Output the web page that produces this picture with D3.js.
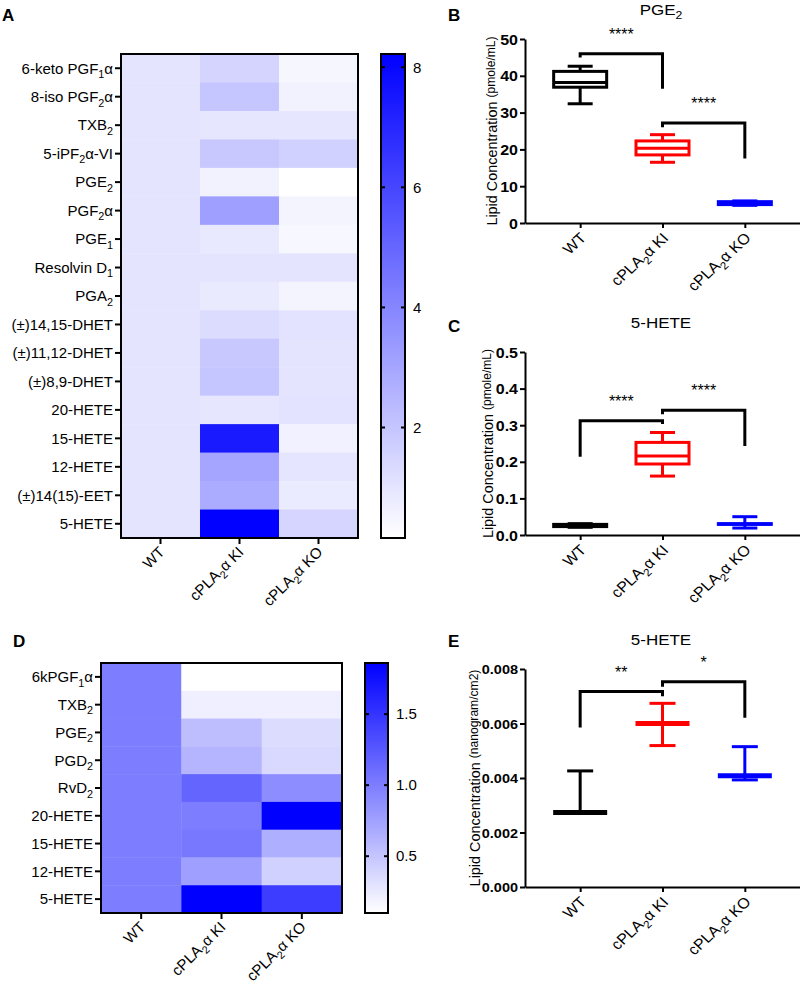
<!DOCTYPE html>
<html><head><meta charset="utf-8">
<script src="https://cdn.jsdelivr.net/npm/d3@7"></script>
<style>
body{margin:0;background:#fff}
svg{display:block}
text{font-family:"Liberation Sans",Arial,Helvetica,sans-serif;fill:#000}
</style>
</head><body>
<svg id="fig" width="800" height="991"></svg>
<script>
// ---------------- DATA ----------------
const genotypes = ["WT", "cPLA_2α KI", "cPLA_2α KO"];
const groupColors = ["#000000", "#ff0000", "#0000ff"];

// Panel A heatmap (fold change, plasma)
const lipidsA = ["6-keto PGF_1α", "8-iso PGF_2α", "TXB_2", "5-iPF_2α-VI", "PGE_2", "PGF_2α", "PGE_1",
  "Resolvin D_1", "PGA_2", "(±)14,15-DHET", "(±)11,12-DHET", "(±)8,9-DHET", "20-HETE", "15-HETE",
  "12-HETE", "(±)14(15)-EET", "5-HETE"];
const wtA = [1, 1, 1, 1, 1, 1, 1, 1, 1, 1, 1, 1, 1, 1, 1, 1, 1];
const kiA = [1.53, 2.0, 0.95, 1.9, 0.57, 3.2, 0.88, 1.0, 0.82, 1.26, 1.9, 2.0, 0.95, 7.4, 3.0, 2.8, 8.2];
const koA = [0.45, 0.57, 0.95, 1.6, 0.16, 0.5, 0.4, 1.02, 0.5, 1.05, 1.0, 1.0, 1.05, 0.6, 0.97, 0.78, 1.5];
const colorDomainA = [0.16, 8.22];
const colorTicksA = [2, 4, 6, 8];

// Panel D heatmap (fold change, skin)
const lipidsD = ["6kPGF_1α", "TXB_2", "PGE_2", "PGD_2", "RvD_2", "20-HETE", "15-HETE", "12-HETE", "5-HETE"];
const wtD = [1, 1, 1, 1, 1, 1, 1, 1, 1];
const kiD = [0.1, 0.21, 0.55, 0.62, 1.17, 1.0, 1.03, 0.76, 1.86];
const koD = [0.1, 0.21, 0.34, 0.36, 0.89, 1.86, 0.65, 0.42, 1.44];
const colorDomainD = [0.1, 1.86];
const colorTicksD = [0.5, 1.0, 1.5];

// Panel B box plot: PGE2 (pmole/mL)
const pge2Box = [
  {min: 32.4, q1: 36.9, med: 38.2, q3: 41.2, max: 42.6},
  {min: 16.5, q1: 18.5, med: 20.3, q3: 22.3, max: 24.0},
  {min: 4.8, q1: 5.0, med: 5.3, q3: 5.8, max: 6.0}
];
const pge2Ticks = [0, 10, 20, 30, 40, 50];
const pge2Sig = [
  {a: 0, b: 1, top: 46, yl: 45, yr: 36.5, label: "****"},
  {a: 1, b: 2, top: 27.2, yl: 26, yr: 17.5, label: "****"}
];

// Panel C box plot: 5-HETE (pmole/mL)
const hete5Box = [
  {min: 0.021, q1: 0.023, med: 0.026, q3: 0.029, max: 0.031},
  {min: 0.161, q1: 0.194, med: 0.216, q3: 0.253, max: 0.280},
  {min: 0.019, q1: 0.029, med: 0.030, q3: 0.031, max: 0.050}
];
const hete5Ticks = [0, 0.1, 0.2, 0.3, 0.4, 0.5];
const hete5Sig = [
  {a: 0, b: 1, top: 0.312, yl: 0.214, yr: 0.303, label: "****"},
  {a: 1, b: 2, top: 0.341, yl: 0.33, yr: 0.243, label: "****"}
];

// Panel E mean ± SD: 5-HETE (nanogram/cm2)
const hete5Skin = [
  {mean: 0.00273, lo: 0.00270, hi: 0.00426},
  {mean: 0.00600, lo: 0.00519, hi: 0.00674},
  {mean: 0.00408, lo: 0.00393, hi: 0.00515}
];
const hete5SkinTicks = [0, 0.002, 0.004, 0.006, 0.008];
const hete5SkinSig = [
  {a: 0, b: 1, top: 0.00717, yl: 0.00585, yr: 0.0070, label: "**"},
  {a: 1, b: 2, top: 0.00753, yl: 0.00735, yr: 0.00621, label: "*"}
];

// ---------------- HELPERS ----------------
const svg = d3.select("#fig");
svg.append("rect").attr("width", 800).attr("height", 991).attr("fill", "#fff");

// rich text: "_x" => subscript x
function rich(t, str, fs) {
  const parts = [];
  let buf = "";
  for (let i = 0; i < str.length; i++) {
    if (str[i] === "_") {
      if (buf) parts.push({s: buf, sub: false});
      buf = "";
      parts.push({s: str[i + 1], sub: true});
      i++;
    } else buf += str[i];
  }
  if (buf) parts.push({s: buf, sub: false});
  const sh = fs * 0.3;
  let shifted = false;
  parts.forEach(p => {
    const ts = t.append("tspan").text(p.s);
    if (p.sub) {
      ts.attr("font-size", fs * 0.72);
      if (!shifted) ts.attr("dy", sh);
      shifted = true;
    } else if (shifted) {
      ts.attr("dy", -sh);
      shifted = false;
    }
  });
  return t;
}

function stext(parent, x, y, rot, sy, fs) {
  return parent.append("text")
    .attr("transform", `translate(${x},${y}) scale(1,${sy}) rotate(${rot})`)
    .attr("font-size", fs);
}

function panelLetter(ch, x, y) {
  svg.append("text").attr("x", x).attr("y", y).attr("font-size", 17)
    .attr("font-weight", "bold").text(ch);
}

// ---------------- HEATMAP ----------------
let gradId = 0;
function heatmap(c) {
  const g = svg.append("g");
  const x = d3.scaleBand().domain(d3.range(genotypes.length)).range([c.x0, c.x1]);
  const y = d3.scaleBand().domain(d3.range(c.rows.length)).range([c.y0, c.y1]);
  const col = d3.scaleLinear().domain(c.domain).range(["#ffffff", "#0000ff"]).clamp(true);
  const cells = [];
  c.series.forEach((s, ci) => s.forEach((v, ri) => cells.push({ci, ri, v})));
  g.selectAll("rect.cell").data(cells).join("rect").attr("class", "cell")
    .attr("x", d => x(d.ci)).attr("y", d => y(d.ri))
    .attr("width", x.bandwidth() + 0.4).attr("height", y.bandwidth() + 0.4)
    .attr("fill", d => col(d.v));
  g.append("rect").attr("x", c.x0).attr("y", c.y0).attr("width", c.x1 - c.x0)
    .attr("height", c.y1 - c.y0).attr("fill", "none").attr("stroke", "#000").attr("stroke-width", 2);
  // row ticks and labels
  c.rows.forEach((r, i) => {
    const yc = y(i) + y.bandwidth() / 2;
    g.append("line").attr("x1", c.x0 - 6).attr("x2", c.x0).attr("y1", yc).attr("y2", yc)
      .attr("stroke", "#000").attr("stroke-width", 2);
    const t = g.append("text").attr("x", c.x0 - 8).attr("y", yc + 5.3)
      .attr("text-anchor", "end").attr("font-size", 15);
    rich(t, r, 15);
  });
  // column ticks and labels
  genotypes.forEach((gname, i) => {
    const xc = x(i) + x.bandwidth() / 2;
    g.append("line").attr("x1", xc).attr("x2", xc).attr("y1", c.y1).attr("y2", c.y1 + 6)
      .attr("stroke", "#000").attr("stroke-width", 2);
    const t = stext(g, xc + 5, c.y1 + 15, -45, 1, 15).attr("text-anchor", "end");
    rich(t, gname, 15);
  });
  // colour bar
  const id = "grad" + (gradId++);
  const lg = svg.append("defs").append("linearGradient").attr("id", id)
    .attr("x1", 0).attr("y1", 1).attr("x2", 0).attr("y2", 0);
  d3.range(0, 1.0001, 0.1).forEach(f => {
    lg.append("stop").attr("offset", f)
      .attr("stop-color", col(c.domain[0] + f * (c.domain[1] - c.domain[0])));
  });
  const yb = d3.scaleLinear().domain(c.domain).range([c.y1, c.y0]);
  g.append("rect").attr("x", c.bx0).attr("y", c.y0).attr("width", c.bx1 - c.bx0)
    .attr("height", c.y1 - c.y0).attr("fill", `url(#${id})`)
    .attr("stroke", "#000").attr("stroke-width", 2);
  c.ticks.forEach(tv => {
    const yy = yb(tv);
    g.append("line").attr("x1", c.bx0).attr("x2", c.bx0 + 4).attr("y1", yy).attr("y2", yy)
      .attr("stroke", "#000").attr("stroke-width", 2);
    g.append("line").attr("x1", c.bx1 - 4).attr("x2", c.bx1).attr("y1", yy).attr("y2", yy)
      .attr("stroke", "#000").attr("stroke-width", 2);
    g.append("text").attr("x", c.bx1 + 8).attr("y", yy + 5.3).attr("font-size", 15)
      .text(c.fmt(tv));
  });
}

heatmap({x0: 121, x1: 358, y0: 54, y1: 538, bx0: 381, bx1: 405,
  rows: lipidsA, series: [wtA, kiA, koA], domain: colorDomainA, ticks: colorTicksA,
  fmt: d3.format("d")});
heatmap({x0: 101, x1: 342, y0: 663, y1: 913, bx0: 365, bx1: 388,
  rows: lipidsD, series: [wtD, kiD, koD], domain: colorDomainD, ticks: colorTicksD,
  fmt: d3.format(".1f")});

// ---------------- BOX / MEAN PANELS ----------------
const SY = 0.88;
function statPanel(c) {
  const g = svg.append("g");
  const x = d3.scalePoint().domain(d3.range(genotypes.length)).range([525, 800]).padding(0.67);
  const y = d3.scaleLinear().domain(c.domain).range([c.yb, c.yt]);
  // y axis
  const ya = g.append("g").attr("transform", "translate(525,0)")
    .call(d3.axisLeft(y).tickValues(c.ticks).tickFormat(c.fmt).tickSize(5).tickSizeOuter(0));
  ya.select(".domain").attr("stroke-width", 2);
  ya.selectAll(".tick line").attr("stroke-width", 2);
  ya.selectAll(".tick text").attr("font-size", c.tickFs).attr("font-weight", "bold")
    .attr("font-family", null).attr("x", -7).attr("dy", "0.36em")
    .attr("transform", `scale(1,${SY})`);
  // x axis
  const xa = g.append("g").attr("transform", `translate(0,${c.yb})`)
    .call(d3.axisBottom(x).tickFormat("").tickSize(5).tickSizeOuter(0));
  xa.select(".domain").attr("stroke-width", 2);
  xa.selectAll(".tick line").attr("stroke-width", 2);
  genotypes.forEach((gname, i) => {
    const t = stext(g, x(i) + 7, c.yb + 16, -45, 0.92, 16).attr("text-anchor", "end");
    rich(t, gname, 16);
  });
  // y label
  const ym = (c.yb + c.yt) / 2;
  const lab = stext(g, c.labX, ym, -90, 0.93, 15.5).attr("text-anchor", "middle");
  lab.append("tspan").text("Lipid Concentration ");
  lab.append("tspan").attr("font-size", 13).attr("dy", -2).text(c.units);
  // title
  const tt = stext(g, 661, c.titleY, 0, SY, 17).attr("text-anchor", "middle");
  rich(tt, c.title, 17);
  // data
  const bw = 53, cw = 25;
  c.data.forEach((d, i) => {
    const cx = x(i), clr = groupColors[i];
    const L = (x1, y1, x2, y2, w) => g.append("line").attr("x1", x1).attr("y1", y1)
      .attr("x2", x2).attr("y2", y2).attr("stroke", clr).attr("stroke-width", w || 3);
    if (c.kind === "box") {
      L(cx, y(d.min), cx, y(d.q1));
      L(cx, y(d.q3), cx, y(d.max));
      L(cx - cw / 2, y(d.min), cx + cw / 2, y(d.min));
      L(cx - cw / 2, y(d.max), cx + cw / 2, y(d.max));
      g.append("rect").attr("x", cx - bw / 2).attr("y", y(d.q3)).attr("width", bw)
        .attr("height", Math.max(0.01, y(d.q1) - y(d.q3))).attr("fill", "none")
        .attr("stroke", clr).attr("stroke-width", 3);
      L(cx - bw / 2, y(d.med), cx + bw / 2, y(d.med));
    } else {
      L(cx, y(d.lo), cx, y(d.hi));
      L(cx - 13, y(d.hi), cx + 13, y(d.hi));
      L(cx - 13, y(d.lo), cx + 13, y(d.lo));
      L(cx - 27, y(d.mean), cx + 27, y(d.mean), 5);
    }
  });
  // significance brackets
  c.sig.forEach(s => {
    g.append("path")
      .attr("d", `M${x(s.a)},${y(s.yl)}V${y(s.top)}H${x(s.b)}V${y(s.yr)}`)
      .attr("fill", "none").attr("stroke", "#000").attr("stroke-width", 3);
    g.append("text").attr("x", (x(s.a) + x(s.b)) / 2).attr("y", y(s.top) - 14)
      .attr("text-anchor", "middle").attr("font-size", 16).text(s.label);
  });
}

statPanel({yb: 223, yt: 39, domain: [0, 50], ticks: pge2Ticks, fmt: d3.format("d"), tickFs: 16,
  data: pge2Box, kind: "box", sig: pge2Sig, title: "PGE_2", titleY: 15, units: "(pmole/mL)", labX: 497});
statPanel({yb: 535, yt: 352, domain: [0, 0.5], ticks: hete5Ticks, fmt: d3.format(".1f"), tickFs: 16,
  data: hete5Box, kind: "box", sig: hete5Sig, title: "5-HETE", titleY: 328, units: "(pmole/mL)", labX: 493});
statPanel({yb: 887, yt: 669, domain: [0, 0.008], ticks: hete5SkinTicks, fmt: d3.format(".3f"), tickFs: 14.5,
  data: hete5Skin, kind: "mean", sig: hete5SkinSig, title: "5-HETE", titleY: 645, units: "(nanogram/cm2)", labX: 480});

panelLetter("A", 2, 21);
panelLetter("B", 448, 21);
panelLetter("C", 448, 332);
panelLetter("D", 13, 647);
panelLetter("E", 448, 647);
</script>
</body></html>
